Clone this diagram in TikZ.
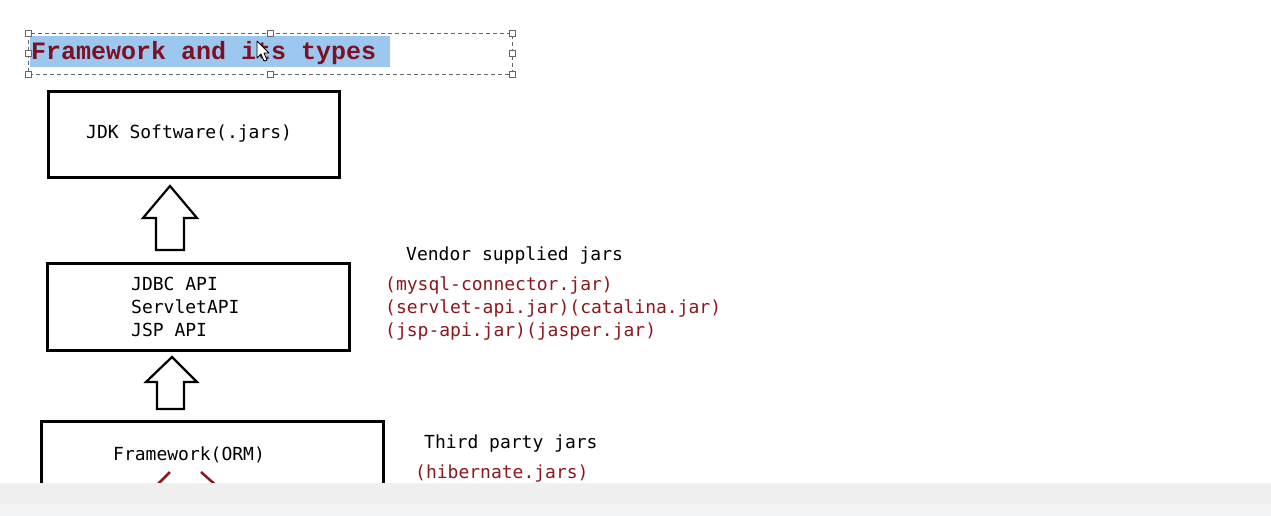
\documentclass[tikz,border=0pt]{standalone}
\usepackage{fontspec}
\setmonofont{DejaVu Sans Mono}
\newfontfamily\headfont{Liberation Mono}
\definecolor{jarred}{RGB}{140,24,30}
\definecolor{headred}{RGB}{125,16,34}
\definecolor{markblue}{RGB}{156,199,238}
\definecolor{barA}{RGB}{239,239,239}
\definecolor{barB}{RGB}{243,244,246}

\begin{document}
\begin{tikzpicture}[x=1pt,y=-1pt,
  jarbox/.style={draw, line width=3pt, inner sep=0pt},
  plain/.style={font=\ttfamily\fontsize{18}{23}\selectfont, inner sep=0pt, anchor=base west},
  jartext/.style={plain, text=jarred},
  blockup/.style={draw, line width=2.2pt, fill=white, line join=miter},
  handle/.style={draw=black!60, fill=white, line width=0.8pt, minimum size=6pt, inner sep=0pt},
  ormline/.style={draw=jarred, line width=2.5pt}]
  \useasboundingbox (0,0) rectangle (1271,516);
  \fill[white] (0,0) rectangle (1271,516);
  % heading
  \fill[markblue] (30,36) rectangle (390,67);
  \node[inner sep=0pt, anchor=base west, text=headred, font=\headfont\bfseries\fontsize{25}{30}\selectfont] (head) at (31,60) {Framework and its types};
  \draw[black!60, line width=0.9pt, dash pattern=on 4pt off 3pt] (28,33) rectangle (512,74);
  \foreach \hx/\hy in {28/33, 270/33, 512/33, 28/53, 512/53, 28/74, 270/74, 512/74}
    \node[handle] at (\hx,\hy) {};
  \filldraw[fill=white, draw=black, line width=0.8pt, line join=round] (257,41) -- (257,58) -- (261,54) -- (264,61) -- (267,60) -- (264,53) -- (269,53) -- cycle;
  % boxes
  \node[jarbox, minimum width=291pt, minimum height=85pt] (jdk) at (193.5,134.5) {};
  \node[plain] (jdktext) at (86,139) {JDK Software(.jars)};
  \node[jarbox, minimum width=302pt, minimum height=87pt] (api) at (198,306.5) {};
  \node[plain] (jdbc) at (131,290) {JDBC API};
  \node[plain] (servlet) at (131,313) {ServletAPI};
  \node[plain] (jsp) at (131,336) {JSP API};
  \node[jarbox, minimum width=342pt, minimum height=80pt] (orm) at (212,461) {};
  \node[plain] (ormtext) at (113,460) {Framework(ORM)};
  % block arrows
  \filldraw[blockup] (170,186) -- (197,218) -- (184,218) -- (184,250) -- (156,250) -- (156,218) -- (143,218) -- cycle;
  \filldraw[blockup] (172,357) -- (197,382) -- (184,382) -- (184,409) -- (157,409) -- (157,382) -- (146,382) -- cycle;
  % side notes
  \node[plain] (vendor) at (406,260) {Vendor supplied jars};
  \node[jartext] (mysql) at (385,290) {(mysql-connector.jar)};
  \node[jartext] (servletjar) at (385,313) {(servlet-api.jar)(catalina.jar)};
  \node[jartext] (jspjar) at (385,336) {(jsp-api.jar)(jasper.jar)};
  \node[plain] (third) at (424,448) {Third party jars};
  \node[jartext] (hibernate) at (415,478) {(hibernate.jars)};
  % arrows under the framework text
  \coordinate (leftend) at (154,488);
  \coordinate (rightend) at (219,488);
  \coordinate (lefttop) at (170,472);
  \coordinate (righttop) at (201,472);
  \draw[ormline] (lefttop) -- (leftend);
  \draw[ormline] (righttop) -- (rightend);
  % status bar
  \fill[barA] (0,483) rectangle (1271,504);
  \fill[barB] (0,504) rectangle (1271,516);
\end{tikzpicture}
\end{document}
